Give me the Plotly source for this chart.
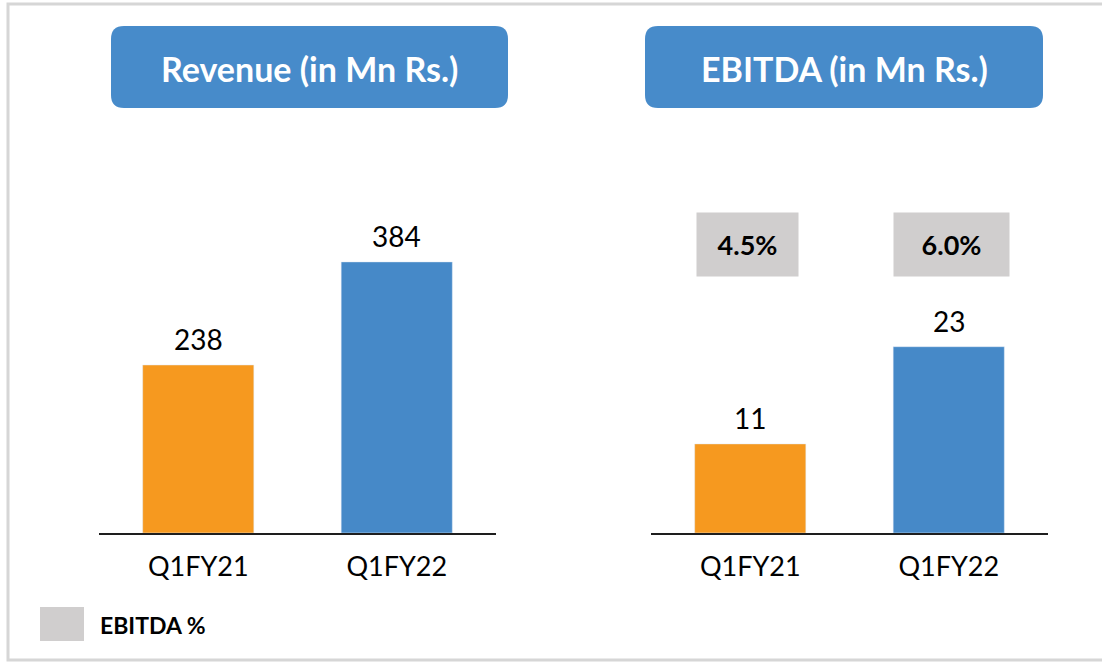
import plotly.graph_objects as go

W, H = 1102, 662

categories = ["Q1FY21", "Q1FY22"]
revenue = [238, 384]
ebitda = [11, 23]
ebitda_margin = ["4.5%", "6.0%"]
bar_colors = ["#F6991F", "#4689C8"]
titles = ["Revenue (in Mn Rs.)", "EBITDA (in Mn Rs.)"]
legend_label = "EBITDA %"

FONT = "Lato"
HEAD_BLUE = "#478BCA"
GREY = "#D0CECE"


def px(x):
    return x / W


def py(y):
    return (H - y) / H


fig = go.Figure()
fig.add_trace(go.Bar(x=categories, y=revenue, marker_color=bar_colors,
                     width=0.56, xaxis="x", yaxis="y", showlegend=False,
                     hoverinfo="skip"))
fig.add_trace(go.Bar(x=categories, y=ebitda, marker_color=bar_colors,
                     width=0.56, xaxis="x2", yaxis="y2", showlegend=False,
                     hoverinfo="skip"))

base = 533
top = 120
ydom = [py(base), py(top)]
rev_scale = 0.706
eb_scale = 8.1

axis_common = dict(showline=True, linecolor="#1E1E1E", linewidth=2,
                   ticks="", showgrid=False, zeroline=False,
                   tickfont=dict(family=FONT, size=27, color="#000"),
                   ticklabelstandoff=9, fixedrange=True)
fig.update_layout(
    width=W, height=H, margin=dict(l=0, r=0, t=0, b=0),
    paper_bgcolor="white", plot_bgcolor="white",
    xaxis=dict(domain=[px(99), px(496)], anchor="y", **axis_common),
    xaxis2=dict(domain=[px(651), px(1048)], anchor="y2", **axis_common),
    yaxis=dict(domain=ydom, range=[0, (base - top) / rev_scale], visible=False,
               anchor="x", fixedrange=True),
    yaxis2=dict(domain=ydom, range=[0, (base - top) / eb_scale], visible=False,
                anchor="x2", fixedrange=True),
    bargap=0.44,
)

annotations = []
# data labels
for xa, ya, vals in (("x", "y", revenue), ("x2", "y2", ebitda)):
    for c, v in zip(categories, vals):
        annotations.append(dict(x=c, y=v, xref=xa, yref=ya, text=str(v),
                                showarrow=False, yanchor="bottom", yshift=7,
                                font=dict(family=FONT, size=28, color="#000")))

# EBITDA margin boxes
box_w = [101, 115]
box_xshift = [-2.5, 3]
for c, m, bw, xs in zip(categories, ebitda_margin, box_w, box_xshift):
    annotations.append(dict(x=c, xref="x2", y=py(244.5), yref="paper",
                            text="<b>" + m + "</b>", showarrow=False,
                            xanchor="center", yanchor="middle", xshift=xs,
                            width=bw, height=63, borderpad=0, bgcolor=GREY,
                            font=dict(family=FONT, size=27, color="#000")))

shapes = []


def rounded(x0, y0, x1, y1, r):
    # pixel coords, y top-down
    X = lambda v: px(v)
    Y = lambda v: py(v)
    return (f"M {X(x0 + r)},{Y(y0)} L {X(x1 - r)},{Y(y0)} "
            f"Q {X(x1)},{Y(y0)} {X(x1)},{Y(y0 + r)} L {X(x1)},{Y(y1 - r)} "
            f"Q {X(x1)},{Y(y1)} {X(x1 - r)},{Y(y1)} L {X(x0 + r)},{Y(y1)} "
            f"Q {X(x0)},{Y(y1)} {X(x0)},{Y(y1 - r)} L {X(x0)},{Y(y0 + r)} "
            f"Q {X(x0)},{Y(y0)} {X(x0 + r)},{Y(y0)} Z")


# border frame
shapes.append(dict(type="rect", xref="paper", yref="paper",
                   x0=px(8), x1=px(1110), y0=py(660), y1=py(4),
                   line=dict(color="#D6D6D6", width=3), fillcolor="rgba(0,0,0,0)",
                   layer="below"))

headers = [(111, 508), (645, 1043)]
for (x0, x1), t in zip(headers, titles):
    shapes.append(dict(type="path", xref="paper", yref="paper",
                       path=rounded(x0, 26, x1, 108, 13),
                       fillcolor=HEAD_BLUE, line=dict(width=0)))
    annotations.append(dict(x=px((x0 + x1) / 2), y=py(68), xref="paper",
                            yref="paper", text="<b>" + t + "</b>",
                            showarrow=False, xanchor="center", yanchor="middle",
                            font=dict(family=FONT, size=34, color="white")))

# legend
shapes.append(dict(type="rect", xref="paper", yref="paper",
                   x0=px(40), x1=px(84), y0=py(641), y1=py(607),
                   fillcolor=GREY, line=dict(width=0)))
annotations.append(dict(x=px(98), y=py(625), xref="paper", yref="paper",
                        text="<b>" + legend_label + "</b>", showarrow=False,
                        xanchor="left", yanchor="middle",
                        font=dict(family=FONT, size=23, color="#000")))

fig.update_layout(shapes=shapes, annotations=annotations, hovermode=False)
fig.write_html("out.html",
               config={"displayModeBar": False, "staticPlot": True},
               post_script="document.body.style.margin='0';"
                           "document.body.style.overflow='hidden';")
